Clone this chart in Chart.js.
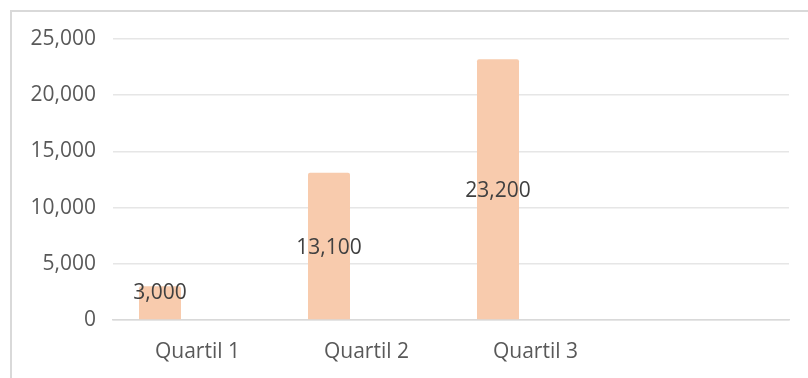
<!DOCTYPE html>
<html>
<head>
<meta charset="utf-8">
<script src="https://cdn.jsdelivr.net/npm/chart.js@4"></script>
<style>
  html, body { margin: 0; padding: 0; background: #fff; overflow: hidden; }
  #frame { position: absolute; left: 10px; top: 10px; width: 900px; height: 500px; border: 2px solid #d9d9d9; box-sizing: border-box; }
  #wrap { position: absolute; left: 0; top: 0; width: 808px; height: 378px; }
</style>
</head>
<body>
<div id="frame"></div>
<div id="wrap"><canvas id="Grafica"></canvas></div>
<script>
// categorias y valores
const categorias = ['Quartil 1', 'Quartil 2', 'Quartil 3', ''];
const valores = [3000, 13100, 23200, null];
const vacia = [null, null, null, null];
const ticksY = [0, 5000, 10000, 15000, 20000, 25000];

const fuente = '"Open Sans", sans-serif';
const tam = 21;
const fmt = v => v.toLocaleString('en-US');

// etiquetas de datos dentro de la barra
const etiquetas = {
	id: 'etiquetas',
	afterDatasetsDraw(chart) {
		const ctx = chart.ctx;
		const meta = chart.getDatasetMeta(0);
		ctx.save();
		ctx.font = tam + 'px ' + fuente;
		ctx.fillStyle = '#404040';
		ctx.textAlign = 'center';
		ctx.textBaseline = 'middle';
		meta.data.forEach((bar, i) => {
			const v = valores[i];
			if (v == null) return;
			const mid = (bar.y + bar.base) / 2;
			const y = Math.min(mid, bar.base - 28) + 2;
			ctx.fillText(fmt(v), bar.x, y);
		});
		ctx.restore();
	}
};

var ctx = document.querySelector('#Grafica').getContext('2d');
var myChart = new Chart(ctx, {
	type: 'bar',
	data: {
		labels: categorias,
		datasets: [{
			label: 'Serie 1',
			data: valores,
			backgroundColor: '#f8cbad',
			borderRadius: 2,
			borderSkipped: 'start',
			categoryPercentage: 0.8876,
			barPercentage: 0.56
		}, {
			label: 'Serie 2',
			data: vacia,
			backgroundColor: '#f4b183',
			categoryPercentage: 0.8876,
			barPercentage: 0.56
		}]
	},
	options: {
		responsive: true,
		maintainAspectRatio: false,
		animation: false,
		layout: { padding: { left: 0, right: 19, top: 39, bottom: 14 } },
		plugins: { legend: { display: false }, tooltip: { enabled: false } },
		scales: {
			x: {
				afterFit: s => { s.height = 44; },
				grid: { display: false, drawTicks: false },
				border: { display: true, color: '#d9d9d9', width: 1.5 },
				ticks: { color: '#595959', font: { family: fuente, size: tam }, padding: 19, maxRotation: 0 }
			},
			y: {
				min: 0,
				max: 25000,
				afterBuildTicks: s => { s.ticks = ticksY.map(v => ({ value: v })); },
				afterFit: s => { s.width = 113; },
				grid: { color: '#e6e6e6', lineWidth: 1.5, drawTicks: false },
				border: { display: false },
				ticks: { color: '#595959', font: { family: fuente, size: tam }, padding: 17, callback: v => fmt(v) }
			}
		}
	},
	plugins: [etiquetas]
});
</script>
</body>
</html>
